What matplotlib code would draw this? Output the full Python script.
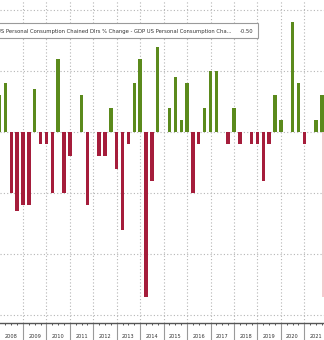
import numpy as np
import matplotlib
matplotlib.use("Agg")
import matplotlib.pyplot as plt
from matplotlib.patches import Rectangle

# quarterly difference, first bar is 2007Q4 (drawn at quarter end)
start_year, start_q = 2007, 4
values = [0.30,
          0.40, -0.50, -0.65, -0.60,
          -0.60, 0.35, -0.10, -0.10,
          -0.50, 0.60, -0.50, -0.20,
          0.00, 0.30, -0.60, 0.00,
          -0.20, -0.20, 0.20, -0.30,
          -0.80, -0.10, 0.40, 0.60,
          -1.35, -0.40, 0.70, 0.00,
          0.20, 0.45, 0.10, 0.40,
          -0.50, -0.10, 0.20, 0.50,
          0.50, 0.00, -0.10, 0.20,
          -0.10, 0.00, -0.10, -0.10,
          -0.40, -0.10, 0.30, 0.10,
          0.00, 0.90, 0.40, -0.10,
          0.00, 0.10, 0.30,
          -1.35]
year_labels = [str(y) for y in range(2008, 2022)]
series_name = "US Personal Consumption Chained Dlrs % Change - GDP US Personal Consumption Cha..."
last_value = "-0.50"

GREEN = "#5b8a1c"
RED = "#a51d3b"
PINK = "#f4c9cd"
FONT = "DejaVu Sans"

pos = []
for i in range(len(values)):
    k = start_q - 1 + i
    pos.append(start_year + k // 4 + (k % 4 + 1) / 4)
pos = np.array(pos)
vals = np.array(values)

fig = plt.figure(figsize=(3.24, 3.40), dpi=100)
ax = fig.add_axes([0, 17 / 340, 1, 323 / 340])

colors = [GREEN if v > 0 else RED for v in vals[:-1]]
ax.bar(pos[:-1], vals[:-1], width=0.145, color=colors, zorder=3)
# last (highlighted) print
ax.bar(pos[-1], vals[-1], width=0.444, color=PINK, zorder=2)

ax.set_xlim(2008.019, 2021.842)
ax.set_ylim(-1.566, 1.082)

ax.set_yticks([-1.5, -1.0, -0.5, 0, 0.5, 1.0])
ax.set_xticks(range(2009, 2022))
ax.set_xticks(np.arange(2008.25, 2022, 0.25), minor=True)
ax.grid(True, which="major", linestyle=(0, (1, 2)), color="#b5b5b5", lw=0.8, zorder=0)
ax.tick_params(axis="y", length=0, labelleft=False)
ax.tick_params(axis="x", which="major", length=12, width=0.8, color="#9a9a9a",
               direction="out", labelbottom=False)
ax.tick_params(axis="x", which="minor", length=1.5, width=0.7, color="#555555",
               direction="out")
for s in ["top", "left", "right"]:
    ax.spines[s].set_visible(False)
ax.spines["bottom"].set_color("#555555")
ax.spines["bottom"].set_linewidth(1.0)

for lab in year_labels:
    ax.text(int(lab) + 0.5, -13 / 323, lab, transform=ax.get_xaxis_transform(),
            ha="center", va="center", fontsize=3.6, color="#333333", family=FONT)

# series label box
fig.add_artist(Rectangle((-5 / 324, (340 - 38.3) / 340), 263 / 324, 15 / 340,
                         transform=fig.transFigure, facecolor="white",
                         edgecolor="#9a9a9a", lw=0.8, zorder=5))
fig.text(-3 / 324, (340 - 31.5) / 340, series_name, ha="left", va="center",
         fontsize=3.75, color="#333333", family=FONT, zorder=6)
fig.text(253 / 324, (340 - 31.5) / 340, last_value, ha="right", va="center",
         fontsize=3.75, color="#333333", family=FONT, zorder=6)

fig.savefig("out.png", dpi=100)
